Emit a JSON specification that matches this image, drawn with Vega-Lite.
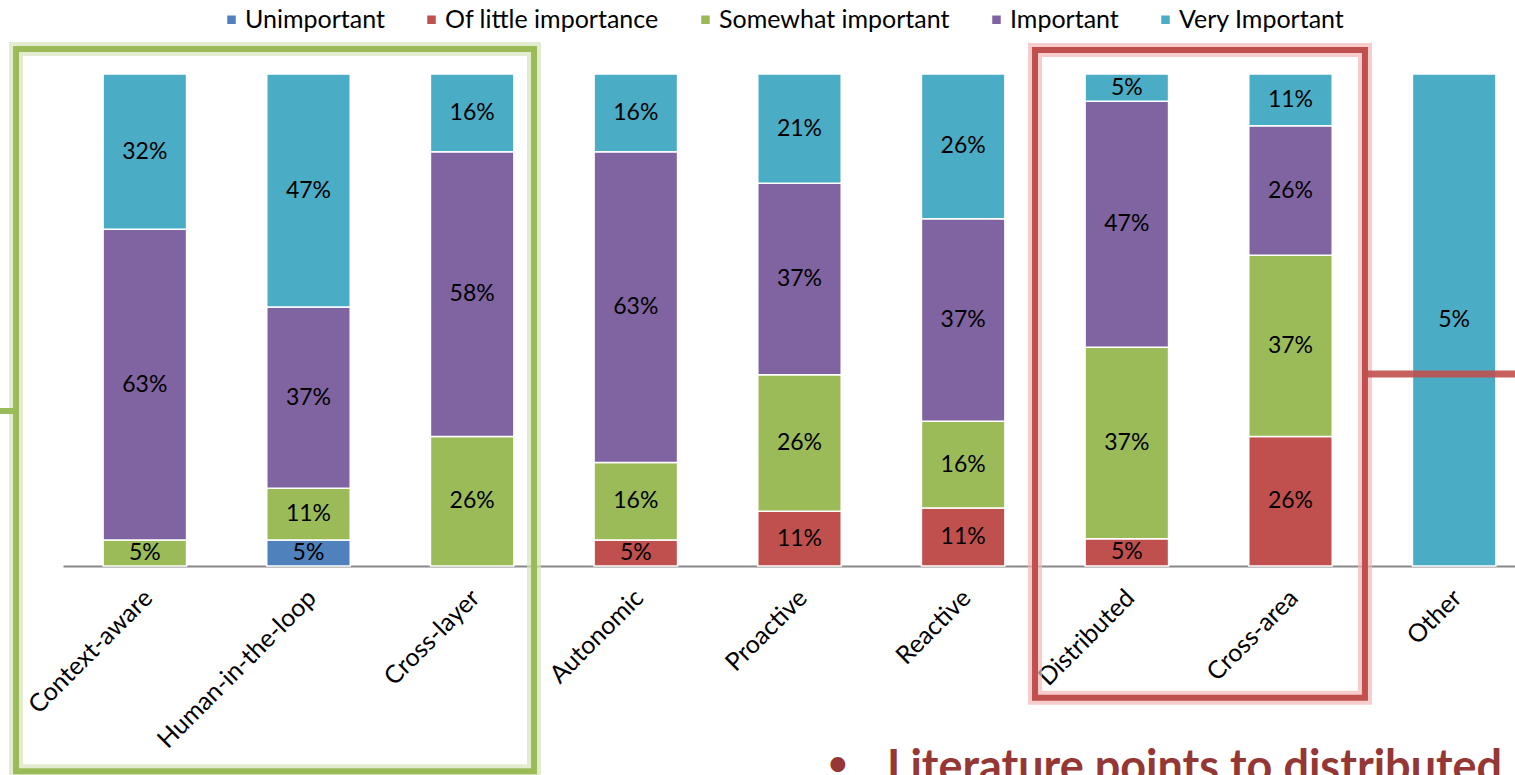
{
  "$schema": "https://vega.github.io/schema/vega-lite/v6.json",
  "width": 1452,
  "height": 492,
  "autosize": {"type": "none"},
  "padding": {"left": 63, "top": 74, "right": 0, "bottom": 209},
  "background": "white",
  "config": {
    "view": {"stroke": null},
    "font": "Lato",
    "legend": {
      "orient": "none",
      "legendX": 156,
      "legendY": -67,
      "direction": "horizontal",
      "symbolType": "square",
      "symbolSize": 100,
      "labelFont": "Lato",
      "labelFontSize": 25,
      "labelColor": "#000000",
      "labelOffset": 1,
      "labelLimit": 0,
      "columnPadding": 34,
      "title": null
    }
  },
  "datasets": {
    "survey": [
      {"cat": "Context-aware", "level": "Somewhat important", "score": 3, "n": 1, "pct": 0.05},
      {"cat": "Context-aware", "level": "Important", "score": 4, "n": 12, "pct": 0.63},
      {"cat": "Context-aware", "level": "Very Important", "score": 5, "n": 6, "pct": 0.32},
      {"cat": "Human-in-the-loop", "level": "Unimportant", "score": 1, "n": 1, "pct": 0.05},
      {"cat": "Human-in-the-loop", "level": "Somewhat important", "score": 3, "n": 2, "pct": 0.11},
      {"cat": "Human-in-the-loop", "level": "Important", "score": 4, "n": 7, "pct": 0.37},
      {"cat": "Human-in-the-loop", "level": "Very Important", "score": 5, "n": 9, "pct": 0.47},
      {"cat": "Cross-layer", "level": "Somewhat important", "score": 3, "n": 5, "pct": 0.26},
      {"cat": "Cross-layer", "level": "Important", "score": 4, "n": 11, "pct": 0.58},
      {"cat": "Cross-layer", "level": "Very Important", "score": 5, "n": 3, "pct": 0.16},
      {"cat": "Autonomic", "level": "Of little importance", "score": 2, "n": 1, "pct": 0.05},
      {"cat": "Autonomic", "level": "Somewhat important", "score": 3, "n": 3, "pct": 0.16},
      {"cat": "Autonomic", "level": "Important", "score": 4, "n": 12, "pct": 0.63},
      {"cat": "Autonomic", "level": "Very Important", "score": 5, "n": 3, "pct": 0.16},
      {"cat": "Proactive", "level": "Of little importance", "score": 2, "n": 2, "pct": 0.11},
      {"cat": "Proactive", "level": "Somewhat important", "score": 3, "n": 5, "pct": 0.26},
      {"cat": "Proactive", "level": "Important", "score": 4, "n": 7, "pct": 0.37},
      {"cat": "Proactive", "level": "Very Important", "score": 5, "n": 4, "pct": 0.21},
      {"cat": "Reactive", "level": "Of little importance", "score": 2, "n": 2, "pct": 0.11},
      {"cat": "Reactive", "level": "Somewhat important", "score": 3, "n": 3, "pct": 0.16},
      {"cat": "Reactive", "level": "Important", "score": 4, "n": 7, "pct": 0.37},
      {"cat": "Reactive", "level": "Very Important", "score": 5, "n": 5, "pct": 0.26},
      {"cat": "Distributed", "level": "Of little importance", "score": 2, "n": 1, "pct": 0.05},
      {"cat": "Distributed", "level": "Somewhat important", "score": 3, "n": 7, "pct": 0.37},
      {"cat": "Distributed", "level": "Important", "score": 4, "n": 9, "pct": 0.47},
      {"cat": "Distributed", "level": "Very Important", "score": 5, "n": 1, "pct": 0.05},
      {"cat": "Cross-area", "level": "Of little importance", "score": 2, "n": 5, "pct": 0.26},
      {"cat": "Cross-area", "level": "Somewhat important", "score": 3, "n": 7, "pct": 0.37},
      {"cat": "Cross-area", "level": "Important", "score": 4, "n": 5, "pct": 0.26},
      {"cat": "Cross-area", "level": "Very Important", "score": 5, "n": 2, "pct": 0.11},
      {"cat": "Other", "level": "Very Important", "score": 5, "n": 1, "pct": 0.05}
    ]
  },
  "resolve": {"scale": {"x": "independent", "y": "independent"}},
  "layer": [
    {
      "data": {"name": "survey"},
      "encoding": {
        "x": {
          "field": "cat",
          "type": "nominal",
          "sort": ["Context-aware", "Human-in-the-loop", "Cross-layer", "Autonomic", "Proactive", "Reactive", "Distributed", "Cross-area", "Other"],
          "scale": {"range": [0, 1473], "paddingInner": 0.49, "paddingOuter": 0.245},
          "axis": {
            "title": null,
            "ticks": false,
            "grid": false,
            "domainColor": "#888888",
            "domainWidth": 2,
            "labelAngle": -45,
            "labelFont": "Lato",
            "labelFontSize": 25,
            "labelColor": "#000000",
            "labelLimit": 0,
            "labelPadding": 19,
            "labelOffset": -5
          }
        },
        "order": {"field": "score", "type": "quantitative"}
      },
      "layer": [
        {
          "mark": {"type": "bar", "stroke": "white", "strokeWidth": 1.5},
          "encoding": {
            "y": {"field": "n", "type": "quantitative", "stack": "normalize", "scale": {"domain": [0, 1], "nice": false}, "axis": null},
            "color": {
              "field": "level",
              "type": "nominal",
              "sort": ["Unimportant", "Of little importance", "Somewhat important", "Important", "Very Important"],
              "scale": {
                "domain": ["Unimportant", "Of little importance", "Somewhat important", "Important", "Very Important"],
                "range": ["#4F81BD", "#C0504D", "#9BBB59", "#8064A2", "#4BACC6"]
              }
            }
          }
        },
        {
          "mark": {"type": "text", "font": "Lato", "fontSize": 23, "color": "#000000", "baseline": "middle"},
          "encoding": {
            "y": {"field": "n", "type": "quantitative", "stack": "normalize", "bandPosition": 0.5, "axis": null},
            "detail": {"field": "level"},
            "text": {"field": "pct", "type": "quantitative", "format": ".0%"}
          }
        }
      ]
    },
    {
      "data": {"values": [{"x0": -0.287, "x1": 2.878, "y0": -0.417, "y1": 1.051}]},
      "layer": [
        {"mark": {"type": "rect", "filled": false, "stroke": "#D7E4BD", "strokeWidth": 14, "strokeOpacity": 0.7}},
        {"mark": {"type": "rect", "filled": false, "stroke": "#9BBB59", "strokeWidth": 6}}
      ],
      "encoding": {
        "x": {"field": "x0", "type": "quantitative", "scale": {"domain": [0, 9], "range": [0, 1473]}, "axis": null},
        "x2": {"field": "x1"},
        "y": {"field": "y0", "type": "quantitative", "scale": {"domain": [0, 1], "nice": false, "zero": false}, "axis": null},
        "y2": {"field": "y1"}
      }
    },
    {
      "data": {"values": [{"x0": 5.939, "x1": 7.955, "y0": -0.268, "y1": 1.049}]},
      "layer": [
        {"mark": {"type": "rect", "filled": false, "stroke": "#F2B8B6", "strokeWidth": 14, "strokeOpacity": 0.7}},
        {"mark": {"type": "rect", "filled": false, "stroke": "#C0504D", "strokeWidth": 6}}
      ],
      "encoding": {
        "x": {"field": "x0", "type": "quantitative", "scale": {"domain": [0, 9], "range": [0, 1473]}, "axis": null},
        "x2": {"field": "x1"},
        "y": {"field": "y0", "type": "quantitative", "scale": {"domain": [0, 1], "nice": false, "zero": false}, "axis": null},
        "y2": {"field": "y1"}
      }
    },
    {
      "data": {"values": [{"x0": 7.967, "x1": 9.5, "y0": 0.39}]},
      "mark": {"type": "rule", "stroke": "#C0504D", "strokeWidth": 7, "strokeOpacity": 0.9},
      "encoding": {
        "x": {"field": "x0", "type": "quantitative", "scale": {"domain": [0, 9], "range": [0, 1473]}, "axis": null},
        "x2": {"field": "x1"},
        "y": {"field": "y0", "type": "quantitative", "scale": {"domain": [0, 1], "nice": false, "zero": false}, "axis": null}
      }
    },
    {
      "data": {"values": [{"x0": -0.39, "x1": -0.287, "y0": 0.315}]},
      "mark": {"type": "rule", "stroke": "#9BBB59", "strokeWidth": 6},
      "encoding": {
        "x": {"field": "x0", "type": "quantitative", "scale": {"domain": [0, 9], "range": [0, 1473]}, "axis": null},
        "x2": {"field": "x1"},
        "y": {"field": "y0", "type": "quantitative", "scale": {"domain": [0, 1], "nice": false, "zero": false}, "axis": null}
      }
    },
    {
      "data": {"values": [{"tx": 4.735, "ty": -0.405, "t": "•"}]},
      "mark": {"type": "text", "font": "Lato", "fontSize": 34, "fontWeight": "bold", "color": "#953735", "align": "center", "baseline": "middle"},
      "encoding": {
        "x": {"field": "tx", "type": "quantitative", "scale": {"domain": [0, 9], "range": [0, 1473]}, "axis": null},
        "y": {"field": "ty", "type": "quantitative", "scale": {"domain": [0, 1], "nice": false, "zero": false}, "axis": null},
        "text": {"field": "t"}
      }
    },
    {
      "data": {"values": [{"tx": 5.035, "ty": -0.44, "t": "Literature points to distributed"}]},
      "mark": {"type": "text", "font": "Lato", "fontSize": 45, "fontWeight": "bold", "color": "#953735", "align": "left", "baseline": "alphabetic"},
      "encoding": {
        "x": {"field": "tx", "type": "quantitative", "scale": {"domain": [0, 9], "range": [0, 1473]}, "axis": null},
        "y": {"field": "ty", "type": "quantitative", "scale": {"domain": [0, 1], "nice": false, "zero": false}, "axis": null},
        "text": {"field": "t"}
      }
    }
  ]
}
